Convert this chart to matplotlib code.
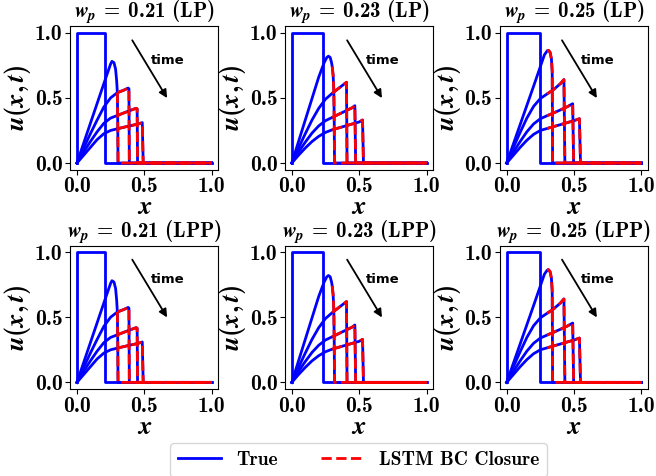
import matplotlib
matplotlib.use("Agg")
import matplotlib.pyplot as plt
from matplotlib.ticker import FormatStrFormatter
from matplotlib.lines import Line2D

plt.rcParams['font.family'] = ['cmb10', 'DejaVu Sans']
plt.rcParams['mathtext.fontset'] = 'custom'
plt.rcParams['mathtext.rm'] = 'cmb10'
plt.rcParams['mathtext.bf'] = 'cmb10'
plt.rcParams['mathtext.it'] = 'STIXGeneral:italic:bold'
plt.rcParams['axes.unicode_minus'] = False

# ---- data ----
widths = [0.21, 0.23, 0.25]
methods = ["LP", "LPP"]
closure_start = 0.3

# w_p = 0.21
x21_t1 = [0, 0.1, 0.2, 0.23, 0.25, 0.26, 0.275, 0.287, 0.295, 0.3, 0.303, 0.305, 1.0]
u21_t1 = [0, 0.305, 0.61, 0.70, 0.76, 0.78, 0.77, 0.72, 0.63, 0.54, 0.3, 0, 0]
x21_t2 = [0, 0.05, 0.1, 0.15, 0.2, 0.25, 0.3, 0.35, 0.38, 0.386, 0.389, 1.0]
u21_t2 = [0, 0.115, 0.225, 0.33, 0.43, 0.50, 0.54, 0.56, 0.575, 0.57, 0, 0]
x21_t3 = [0, 0.05, 0.1, 0.15, 0.2, 0.25, 0.3, 0.35, 0.4, 0.44, 0.447, 0.45, 1.0]
u21_t3 = [0, 0.085, 0.165, 0.24, 0.305, 0.345, 0.365, 0.385, 0.405, 0.42, 0.415, 0, 0]
x21_t4 = [0, 0.05, 0.1, 0.15, 0.2, 0.25, 0.3, 0.35, 0.4, 0.45, 0.485, 0.492, 1.0]
u21_t4 = [0, 0.06, 0.12, 0.18, 0.225, 0.25, 0.263, 0.275, 0.287, 0.298, 0.31, 0, 0]

# w_p = 0.23
x23_t1 = [0, 0.1, 0.2, 0.24, 0.26, 0.272, 0.285, 0.295, 0.3, 0.307, 0.312, 0.315, 0.317, 1.0]
u23_t1 = [0, 0.33, 0.66, 0.77, 0.81, 0.82, 0.81, 0.77, 0.74, 0.67, 0.55, 0.3, 0, 0]
x23_t2 = [0, 0.05, 0.1, 0.15, 0.2, 0.25, 0.3, 0.35, 0.4, 0.406, 0.41, 1.0]
u23_t2 = [0, 0.115, 0.225, 0.33, 0.42, 0.49, 0.535, 0.575, 0.615, 0.62, 0, 0]
x23_t3 = [0, 0.05, 0.1, 0.15, 0.2, 0.25, 0.3, 0.35, 0.4, 0.45, 0.468, 0.474, 1.0]
u23_t3 = [0, 0.085, 0.16, 0.23, 0.285, 0.325, 0.35, 0.375, 0.40, 0.425, 0.44, 0, 0]
x23_t4 = [0, 0.05, 0.1, 0.15, 0.2, 0.25, 0.3, 0.35, 0.4, 0.45, 0.5, 0.525, 0.532, 1.0]
u23_t4 = [0, 0.06, 0.115, 0.165, 0.205, 0.235, 0.255, 0.27, 0.285, 0.30, 0.315, 0.33, 0, 0]

# w_p = 0.25
x25_t1 = [0, 0.1, 0.2, 0.28, 0.3, 0.31, 0.322, 0.332, 0.338, 0.341, 1.0]
u25_t1 = [0, 0.295, 0.59, 0.83, 0.86, 0.865, 0.85, 0.80, 0.70, 0, 0]
x25_t2 = [0, 0.05, 0.1, 0.15, 0.2, 0.25, 0.3, 0.35, 0.4, 0.425, 0.432, 1.0]
u25_t2 = [0, 0.12, 0.235, 0.345, 0.435, 0.495, 0.53, 0.565, 0.61, 0.64, 0, 0]
x25_t3 = [0, 0.05, 0.1, 0.15, 0.2, 0.25, 0.3, 0.35, 0.4, 0.45, 0.49, 0.497, 1.0]
u25_t3 = [0, 0.085, 0.165, 0.24, 0.30, 0.34, 0.363, 0.385, 0.408, 0.432, 0.455, 0, 0]
x25_t4 = [0, 0.05, 0.1, 0.15, 0.2, 0.25, 0.3, 0.35, 0.4, 0.45, 0.5, 0.54, 0.548, 1.0]
u25_t4 = [0, 0.06, 0.12, 0.175, 0.22, 0.25, 0.265, 0.28, 0.295, 0.31, 0.325, 0.34, 0, 0]

curves = {
    0.21: [(x21_t1, u21_t1), (x21_t2, u21_t2), (x21_t3, u21_t3), (x21_t4, u21_t4)],
    0.23: [(x23_t1, u23_t1), (x23_t2, u23_t2), (x23_t3, u23_t3), (x23_t4, u23_t4)],
    0.25: [(x25_t1, u25_t1), (x25_t2, u25_t2), (x25_t3, u25_t3), (x25_t4, u25_t4)],
}

fig, axes = plt.subplots(2, 3, figsize=(6.56, 4.76), dpi=100)
fig.subplots_adjust(left=0.107, right=0.988, top=0.945, bottom=0.183,
                    wspace=0.45, hspace=0.53)

for r, meth in enumerate(methods):
    for c, w in enumerate(widths):
        ax = axes[r, c]
        # initial box
        ax.plot([0, 0, w, w, 1.0], [0, 1, 1, 0, 0], color='blue', lw=2.0)
        for xs, us in curves[w]:
            ax.plot(xs, us, color='blue', lw=2.0)
        for xs, us in curves[w]:
            xr = [a for a in xs if a >= closure_start]
            ur = [b for a, b in zip(xs, us) if a >= closure_start]
            ax.plot(xr, ur, color='red', lw=2.0, ls='--')
        ax.annotate('', xy=(0.68, 0.48), xytext=(0.40, 0.96),
                    arrowprops=dict(arrowstyle='-|>', color='black', lw=1.3,
                                    mutation_scale=12))
        ax.text(0.55, 0.79, 'time', fontsize=9.5, fontweight='bold',
                family='DejaVu Sans', ha='left', va='center')
        ax.set_xticks([0, 0.5, 1.0])
        ax.set_yticks([0, 0.5, 1.0])
        ax.xaxis.set_major_formatter(FormatStrFormatter('%.1f'))
        ax.yaxis.set_major_formatter(FormatStrFormatter('%.1f'))
        ax.tick_params(labelsize=15.5, pad=2)
        ax.set_xlabel('$x$', fontsize=19, labelpad=0)
        ax.set_ylabel('$u(x,t)$', fontsize=19, labelpad=1)
        ax.set_title('$w_p\\;=\\;%.2f$ (%s)' % (w, meth), fontsize=15, pad=3)

handles = [Line2D([], [], color='blue', lw=2.0),
           Line2D([], [], color='red', lw=2.0, ls='--')]
fig.legend(handles, ['True', 'LSTM BC Closure'], loc='lower center',
           bbox_to_anchor=(0.547, -0.022), ncol=2, fontsize=14,
           columnspacing=2.2, handlelength=2.2)

fig.savefig('out.png', dpi=100)
